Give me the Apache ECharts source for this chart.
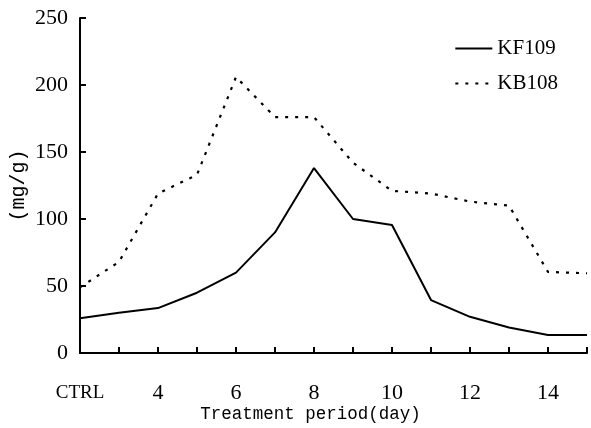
<!DOCTYPE html>
<html>
<head>
<meta charset="utf-8">
<script src="https://cdn.jsdelivr.net/npm/echarts@6/dist/echarts.min.js"></script>
<style>
html,body{margin:0;padding:0;background:#fff;}
#chart{width:591px;height:428px;}
</style>
</head>
<body>
<div id="chart"></div>
<script>
var categories = ['CTRL','3','4','5','6','7','8','9','10','11','12','13','14','15'];
var kf109 = [26, 30, 33.5, 45, 60, 90, 138, 100, 95.5, 39.5, 27, 19, 13.5, 13.5];
var kb108 = [49, 68, 119, 133, 206, 176, 176, 142, 121, 119, 113, 110, 60.5, 59.5];
var yTicks = [0, 50, 100, 150, 200, 250];

var chart = echarts.init(document.getElementById('chart'));
chart.setOption({
  animation: false,
  backgroundColor: '#fff',
  grid: {left: 80, right: 4, top: 18, bottom: 75, containLabel: false, outerBoundsMode: 'none'},
  legend: {
    orient: 'vertical',
    right: 28, top: 33,
    itemWidth: 37, itemHeight: 12, itemGap: 14,
    itemStyle: {opacity: 0},
    textStyle: {fontFamily: 'Liberation Serif', fontSize: 21, color: '#000'},
    data: ['KF109', 'KB108']
  },
  xAxis: {
    type: 'category',
    data: categories,
    boundaryGap: false,
    name: 'Treatment period(day)',
    nameLocation: 'middle',
    nameGap: 52,
    nameMoveOverlap: false,
    nameTextStyle: {fontFamily: 'Liberation Mono', fontSize: 17.5, color: '#000', padding: [0, 46, 0, 0]},
    axisLine: {lineStyle: {color: '#000', width: 2}},
    axisTick: {inside: true, length: 6, interval: 0, lineStyle: {color: '#000', width: 2}},
    axisLabel: {
      interval: 1, margin: 27, color: '#000',
      fontFamily: 'Liberation Serif', fontSize: 22, lineHeight: 26,
      formatter: function (v) { return v === 'CTRL' ? '{c|CTRL}' : v; },
      rich: {c: {fontFamily: 'Liberation Serif', fontSize: 19, lineHeight: 26, color: '#000'}}
    },
    splitLine: {show: false}
  },
  yAxis: {
    type: 'value',
    min: 0, max: 250, interval: 50,
    name: '(mg/g)',
    nameLocation: 'middle',
    nameGap: 51,
    nameMoveOverlap: false,
    nameRotate: 90,
    nameTextStyle: {fontFamily: 'Liberation Mono', fontSize: 20, color: '#000'},
    axisLine: {show: true, lineStyle: {color: '#000', width: 2}},
    axisTick: {show: true, inside: true, length: 6, lineStyle: {color: '#000', width: 2}},
    axisLabel: {
      margin: 12, color: '#000', fontFamily: 'Liberation Serif', fontSize: 22,
      formatter: function (v) { return yTicks.indexOf(v) >= 0 ? String(v) : ''; }
    },
    splitLine: {show: false}
  },
  series: [
    {
      name: 'KF109', type: 'line', data: kf109,
      symbol: 'none', smooth: false,
      lineStyle: {color: '#000', width: 2, type: 'solid'},
      itemStyle: {color: '#000'}
    },
    {
      name: 'KB108', type: 'line', data: kb108,
      symbol: 'none', smooth: false,
      lineStyle: {color: '#000', width: 2.2, type: [3, 7]},
      itemStyle: {color: '#000'}
    }
  ]
});
</script>
</body>
</html>
